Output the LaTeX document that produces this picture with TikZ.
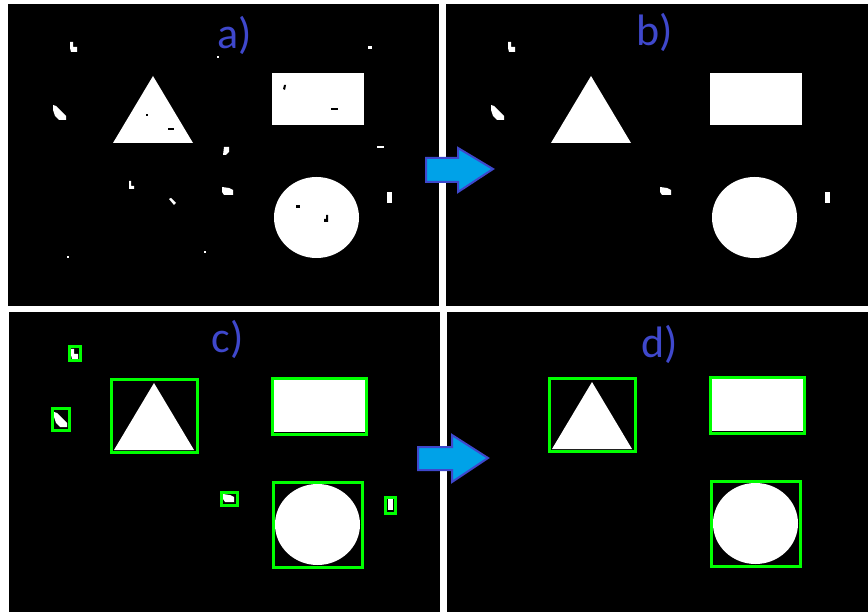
\documentclass[tikz,border=0pt]{standalone}
\usepackage{fontspec}
\newfontfamily\panelfont{Carlito}
\definecolor{labelblue}{RGB}{63,72,204}
\definecolor{arrowfill}{RGB}{0,162,232}
\definecolor{boxgreen}{RGB}{0,255,0}

\begin{document}
\begin{tikzpicture}[x=1pt, y=-1pt,
    panel/.style={fill=black},
    blob/.style={fill=white},
    hole/.style={fill=black},
    bbox/.style={draw=boxgreen, line width=3pt},
    tag/.style={text=labelblue, inner sep=0pt, font=\panelfont\fontsize{44}{44}\selectfont},
    bigarrow/.style={fill=arrowfill, draw=labelblue, line width=2pt}]

    \useasboundingbox (0,0) rectangle (868,612);
    \fill[white] (0,0) rectangle (868,612);

    % four black panels
    \fill[panel] (8,4) rectangle (439,306);
    \fill[panel] (446,4) rectangle (868,306);
    \fill[panel] (9,312) rectangle (440,612);
    \fill[panel] (447,312) rectangle (868,612);

    % triangle, rectangle and circle in every panel
    \foreach \dx/\dy in {0/0, 438/0, 1/307, 439/306} {
        \begin{scope}[shift={(\dx,\dy)}]
            \fill[blob] (153,76) -- (193,143) -- (113,143) -- cycle;
            \fill[blob] (272,73) rectangle (364,125);
            \fill[blob] (316.5,217.5) ellipse (42.5 and 40.5);
        \end{scope}
    }

    % noise that the filter keeps (a, b, c)
    \foreach \dx/\dy in {0/0, 438/0, 1/307} {
        \begin{scope}[shift={(\dx,\dy)}]
            \fill[blob] (70,42) -- (73,42) -- (73,47) -- (77,47) -- (77,52) -- (71,52) -- (70,48) -- cycle;
            \fill[blob] (53,105) -- (56,106) -- (61,111) -- (66,116) -- (66,120) -- (59,120) -- (55,116) -- (53,110) -- cycle;
            \fill[blob] (222,187) -- (229,188) -- (233,190) -- (233,195) -- (224,195) -- (222,192) -- cycle;
            \fill[blob] (387,192) rectangle (392,203);
        \end{scope}
    }

    % noise only in a)
    \fill[blob] (368,46) rectangle (372,49);
    \fill[blob] (217,56) rectangle (219,58);
    \fill[blob] (224,147) -- (229,147) -- (229,152) -- (226,155) -- (223,155) -- cycle;
    \fill[blob] (377,146) rectangle (384,148.5);
    \fill[blob] (129,181) -- (131,181) -- (131,186) -- (134,186) -- (134,189) -- (129,189) -- cycle;
    \fill[blob] (169,199) -- (171,198) -- (176,203) -- (174,205) -- cycle;
    \fill[blob] (67,256) rectangle (69,258);
    \fill[blob] (204,251) rectangle (206,253);

    % holes only in a)
    \fill[hole] (146,114) rectangle (148,116);
    \fill[hole] (168,128) rectangle (174,130.5);
    \fill[hole] (284,85) -- (286,85) -- (285,90) -- (283,89) -- cycle;
    \fill[hole] (331,108) rectangle (338,110.5);
    \fill[hole] (296,205) rectangle (300,208);
    \fill[hole] (326,215) -- (328,215) -- (328,222) -- (324,222) -- (324,219) -- (326,219) -- cycle;

    % bounding boxes in c) and d)
    \foreach \dx/\dy in {1/307, 439/306} {
        \begin{scope}[shift={(\dx,\dy)}]
            \draw[bbox] (110,73) rectangle (196,145);
            \draw[bbox] (271,72) rectangle (365,127);
            \draw[bbox] (272,175) rectangle (361,260);
        \end{scope}
    }
    % small boxes, only in c)
    \begin{scope}[shift={(1,307)}]
        \draw[bbox] (68,40) rectangle (79,54);
        \draw[bbox] (51,102) rectangle (68,123);
        \draw[bbox] (220,185) rectangle (236,198);
        \draw[bbox] (384,190) rectangle (394,206);
    \end{scope}

    % panel labels
    \node[tag] (la) at (234.5,35) {a)};
    \node[tag] (lb) at (655,32.5) {b)};
    \node[tag] (lc) at (227.5,339) {c)};
    \node[tag] (ld) at (660,344) {d)};

    % block arrows
    \draw[bigarrow] (426,158) -- (458,158) -- (458,148) -- (493,169) -- (458,192) -- (458,182) -- (426,182) -- cycle;
    \draw[bigarrow] (418,447) -- (452,447) -- (452,435) -- (488,458) -- (452,482) -- (452,470) -- (418,470) -- cycle;
\end{tikzpicture}
\end{document}
